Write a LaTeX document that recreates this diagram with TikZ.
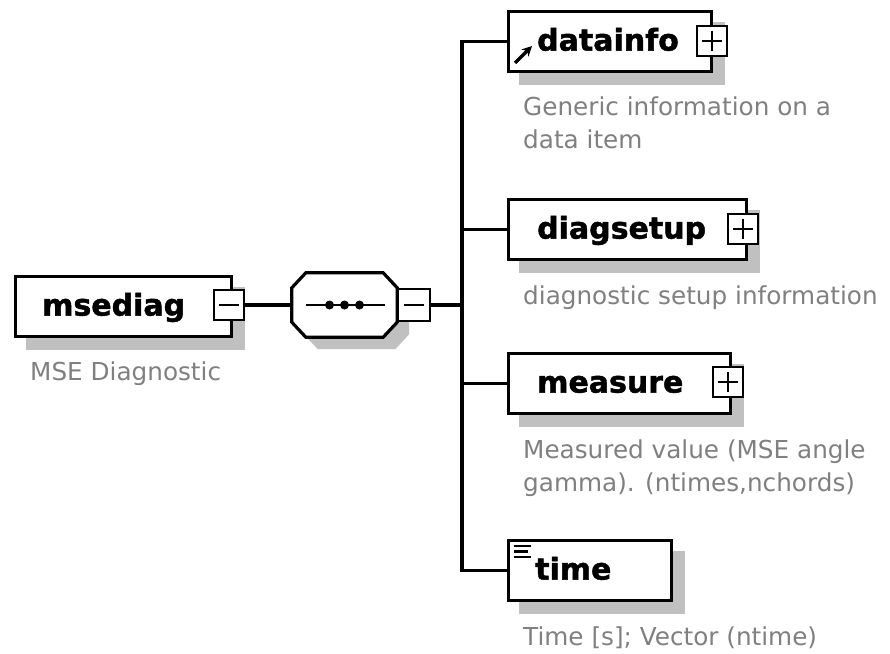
\documentclass[tikz,border=0pt]{standalone}
\usepackage{fontspec}
\usetikzlibrary{calc,backgrounds,arrows.meta}
\newfontfamily\namefont{DejaVu Sans Bold}[FakeBold=1.5]
\newfontfamily\descfont{DejaVu Sans}
\definecolor{shadowc}{RGB}{192,192,192}
\definecolor{descc}{RGB}{128,128,128}
\tikzset{
  elem/.style={draw=black, line width=3.2pt, fill=white, rectangle, inner sep=0pt, anchor=north west},
  elname/.style={font=\namefont\fontsize{30}{36}\selectfont, inner sep=0pt, anchor=base west},
  desc/.style={font=\descfont\fontsize{24.7}{33}\selectfont, text=descc, inner sep=0pt, anchor=base west, align=left},
  tog/.style={draw=black, line width=2.8pt, fill=white, rectangle, inner sep=0pt, minimum width=30pt, minimum height=30pt},
  conn/.style={draw=black, line width=3.2pt},
}
\begin{document}
\begin{tikzpicture}[x=1pt,y=-1pt]
\useasboundingbox (0,0) rectangle (890,653);

% element boxes
\node[elem, minimum width=216pt, minimum height=60pt] (msediag) at (14,275) {};
\node[minimum width=105pt, minimum height=64pt, inner sep=0pt] (seq) at (344.5,305) {};
\node[elem, minimum width=203pt, minimum height=60pt] (datainfo) at (507,10) {};
\node[elem, minimum width=238pt, minimum height=60pt] (diagsetup) at (507,198) {};
\node[elem, minimum width=222pt, minimum height=60pt] (measure) at (507,352) {};
\node[elem, minimum width=163pt, minimum height=60pt] (time) at (507,539) {};

% background and shadows
\begin{scope}[on background layer]
  \fill[white] (0,0) rectangle (890,653);
  \foreach \n in {msediag,datainfo,diagsetup,measure,time}{
    \fill[shadowc] ($(\n.north west)+(12,12)$) rectangle ($(\n.south east)+(12,12)$);
  }
  \fill[shadowc]
    ($(seq.north west)+(26,12)$) -- ($(seq.north east)+(-2,12)$) -- ($(seq.north east)+(12,27)$)
    -- ($(seq.south east)+(12,-3)$) -- ($(seq.south east)+(-2,12)$) -- ($(seq.south west)+(26,12)$)
    -- ($(seq.south west)+(12,-3)$) -- ($(seq.north west)+(12,27)$) -- cycle;
\end{scope}

% sequence octagon
\draw[line width=3.2pt, fill=white]
    ($(seq.north west)+(14,0)$) -- ($(seq.north east)+(-14,0)$) -- ($(seq.north east)+(0,15)$)
    -- ($(seq.south east)+(0,-15)$) -- ($(seq.south east)+(-14,0)$) -- ($(seq.south west)+(14,0)$)
    -- ($(seq.south west)+(0,-15)$) -- ($(seq.north west)+(0,15)$) -- cycle;
\draw[line width=2.8pt] ($(seq.west)+(14,0)$) -- ($(seq.east)+(-12,0)$);
\foreach \dx in {-15,0,15}{
  \fill ($(seq.center)+(\dx,0)$) circle (4.5pt);
}

% names
\node[elname] (msediag-t) at ($(msediag.west)+(28,9)$) {msediag};
\node[elname] (datainfo-t) at ($(datainfo.west)+(30,9)$) {datainfo};
\node[elname] (diagsetup-t) at ($(diagsetup.west)+(30,9)$) {diagsetup};
\node[elname] (measure-t) at ($(measure.west)+(30,9)$) {measure};
\node[elname] (time-t) at ($(time.west)+(28,9)$) {time};

% icons
\draw[line width=3.5pt, -{Stealth[length=10pt,width=10pt]}] (515,63) -- (532,46);
\draw[line width=2.5pt] (514,546) -- (531,546) (514,551.5) -- (528,551.5) (514,557) -- (531,557);

% toggles
\node[tog] (msediag-m) at (229,305) {};
\draw[line width=2.8pt] ($(msediag-m.center)+(-10,0)$) -- ($(msediag-m.center)+(10,0)$);
\node[tog, minimum width=32pt, minimum height=32pt] (seq-m) at (414,305) {};
\draw[line width=2.8pt] ($(seq-m.center)+(-10,0)$) -- ($(seq-m.center)+(10,0)$);
\foreach \n/\px/\py in {datainfo/712/41, diagsetup/743/229, measure/728/382}{
  \node[tog] (\n-p) at (\px,\py) {};
  \draw[line width=2.8pt] ($(\n-p.center)+(-10,0)$) -- ($(\n-p.center)+(10,0)$)
                          ($(\n-p.center)+(0,-10)$) -- ($(\n-p.center)+(0,10)$);
}

% connectors
\coordinate (fork) at (462,305);
\draw[conn] (msediag-m.east) -- (seq.west);
\draw[conn] (seq-m.east) -- (fork);
\draw[conn] (fork) |- (datainfo.west);
\draw[conn] (fork) |- (diagsetup.west);
\draw[conn] (fork) |- (measure.west);
\draw[conn] (fork) |- (time.west);

% descriptions
\node[desc] (msediag-d) at (30,380) {MSE Diagnostic};
\node[desc] (datainfo-d) at (523,148) {Generic information on a\\data item};
\node[desc] (diagsetup-d) at (523,304) {diagnostic setup information};
\node[desc] (measure-d) at (523,491) {Measured value (MSE angle\\gamma). (ntimes,nchords)};
\node[desc] (time-d) at (523,645) {Time [s]; Vector (ntime)};
\end{tikzpicture}
\end{document}
